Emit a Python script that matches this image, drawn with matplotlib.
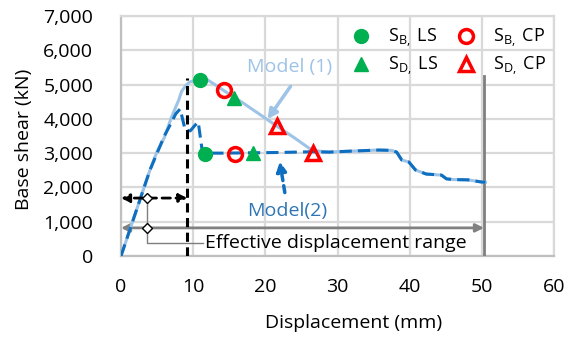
import matplotlib
matplotlib.use("Agg")
import matplotlib.pyplot as plt
from matplotlib.ticker import FuncFormatter

plt.rcParams['font.family'] = ['Open Sans', 'DejaVu Sans']
plt.rcParams['mathtext.fontset'] = 'custom'
plt.rcParams['mathtext.rm'] = 'Open Sans'
plt.rcParams['mathtext.it'] = 'Open Sans'

# ---- data ----
model1_x = [0, 2, 4, 5, 6, 7, 8, 8.4, 9, 9.5, 10.2, 10.9, 11.6, 13, 15, 17, 20, 22, 24, 26.5,
            28.8, 32, 35.7, 37.5, 38.2, 38.9, 39.9, 40.8, 42.3, 44.4, 45.1, 46, 48.1, 49.9, 50.5]
model1_y = [0, 1250, 2500, 3050, 3450, 4050, 4550, 4800, 4980, 5070, 5120, 5150, 5190, 5000, 4720, 4450, 4020, 3730, 3450, 3080,
            3030, 3060, 3090, 3080, 3030, 2800, 2740, 2510, 2390, 2360, 2250, 2230, 2220, 2160, 2150]

model2_x = [0, 2, 4, 5, 6, 7, 7.6, 8.2, 8.9, 9.6, 10.2, 10.7, 11.3, 14, 18, 22, 26.5, 28.8, 32, 35.7, 37.5,
            38.2, 38.9, 39.9, 40.8, 42.3, 44.4, 45.1, 46, 48.1, 49.9, 50.5]
model2_y = [0, 1250, 2500, 3000, 3500, 3900, 4150, 4290, 3670, 3650, 3800, 3910, 3000, 3000, 3010, 3020, 3040, 3030, 3060, 3090, 3080,
            3030, 2800, 2740, 2510, 2390, 2360, 2250, 2230, 2220, 2160, 2150]

sb_ls_x = [10.9, 11.6]
sb_ls_y = [5120, 2980]
sb_cp_x = [14.3, 15.8]
sb_cp_y = [4840, 2980]
sd_ls_x = [15.6, 18.3]
sd_ls_y = [4620, 2990]
sd_cp_x = [21.6, 26.6]
sd_cp_y = [3780, 3010]

yield_disp = 9.2
peak_level = 5200
eff_limit = 50.3
eff_top = 5250
arrow1_y = 1690
arrow2_y = 820
leader_x = 3.6
leader_y = 380

xticks = [0, 10, 20, 30, 40, 50, 60]
yticks = [0, 1000, 2000, 3000, 4000, 5000, 6000, 7000]

# ---- colours ----
c_m1 = '#9DC3E6'
c_m2 = '#0E6EC0'
c_green = '#00B050'
c_red = '#FF0000'
c_grid = '#D9D9D9'

FS = 14

fig = plt.figure(figsize=(5.76, 3.37), dpi=100)
ax = fig.add_axes([121/576, 1-256/337, 433/576, 240/337])
ax.set_xlim(0, 60)
ax.set_ylim(0, 7000)
ax.set_xticks(xticks)
ax.set_yticks(yticks)
ax.yaxis.set_major_formatter(FuncFormatter(lambda v, p: f"{int(v):,}"))
ax.grid(True, color=c_grid, lw=1.6, zorder=0)
ax.set_axisbelow(True)
for s in ax.spines.values():
    s.set_color(c_grid)
    s.set_linewidth(1.6)
ax.spines['left'].set_color('#BFBFBF')
ax.spines['bottom'].set_color('#BFBFBF')
ax.tick_params(length=0, labelsize=FS, colors='black')
ax.tick_params(axis='y', pad=20)
ax.tick_params(axis='x', pad=16)

# effective range annotations
ax.plot([eff_limit, eff_limit], [0, eff_top], color='#7F7F7F', lw=2, zorder=3)
ax.annotate('', xy=(0, arrow2_y), xytext=(eff_limit, arrow2_y),
            arrowprops=dict(arrowstyle='<|-|>', color='#808080', lw=2, mutation_scale=12, shrinkA=0, shrinkB=0), zorder=3)
ax.annotate('', xy=(0, arrow1_y), xytext=(yield_disp, arrow1_y),
            arrowprops=dict(arrowstyle='<|-|>', color='black', lw=2, ls=(0, (3, 2)), mutation_scale=12, shrinkA=0, shrinkB=0), zorder=6)
ax.plot([leader_x, leader_x, 11.3], [arrow1_y, leader_y, leader_y], color='#7F7F7F', lw=1, zorder=4)
ax.plot([leader_x, leader_x], [arrow1_y, arrow2_y], ls='none', marker='D', ms=5,
        mfc='white', mec='black', mew=1, zorder=7)
ax.text(11.7, leader_y, 'Effective displacement range', fontsize=FS, va='center', ha='left', zorder=5)

# curves
ax.plot(model1_x, model1_y, color=c_m1, lw=2.2, zorder=4)
ax.plot(model2_x, model2_y, color=c_m2, lw=2.2, ls=(0, (4, 2)), zorder=5)
ax.plot([yield_disp, yield_disp], [0, peak_level], color='black', lw=2.2, ls=(0, (3, 1.8)), zorder=6)

# markers
h1, = ax.plot(sb_ls_x, sb_ls_y, 'o', color=c_green, ms=10, ls='none', zorder=8)
h2, = ax.plot(sd_ls_x, sd_ls_y, '^', color=c_green, ms=10, ls='none', zorder=8)
h3, = ax.plot(sb_cp_x, sb_cp_y, 'o', mfc='none', mec=c_red, mew=2.5, ms=10, ls='none', zorder=8)
h4, = ax.plot(sd_cp_x, sd_cp_y, '^', mfc='none', mec=c_red, mew=2.5, ms=10, ls='none', zorder=8)

leg = ax.legend([h1, h2, h3, h4],
                [r'S$_{\mathrm{B,}}$ LS', r'S$_{\mathrm{D,}}$ LS', r'S$_{\mathrm{B,}}$ CP', r'S$_{\mathrm{D,}}$ CP'],
                ncol=2, loc='upper right', bbox_to_anchor=(1.007, 1.0), frameon=False,
                fontsize=13, handlelength=1.0, handletextpad=1.0, columnspacing=1.0,
                labelspacing=0.3, borderaxespad=0.2)

# labels for models
ax.text(23.4, 5510, 'Model (1)', color=c_m1, fontsize=FS, ha='center', va='center', zorder=9)
ax.annotate('', xy=(20.3, 3990), xytext=(23.5, 4950),
            arrowprops=dict(arrowstyle='-|>', color=c_m1, lw=2.5, mutation_scale=14, shrinkA=0, shrinkB=0), zorder=9)
ax.text(23.0, 1310, 'Model(2)', color='#2E75B6', fontsize=FS, ha='center', va='center', zorder=9)
ax.annotate('', xy=(22.0, 2760), xytext=(22.7, 1850),
            arrowprops=dict(arrowstyle='-|>', color=c_m2, lw=2.5, ls=(0, (2, 1.5)), mutation_scale=14, shrinkA=0, shrinkB=0), zorder=9)

ax.set_xlabel('Displacement (mm)', fontsize=FS)
ax.set_ylabel('Base shear (kN)', fontsize=FS)
ax.xaxis.set_label_coords(0.536, -0.24)
ax.yaxis.set_label_coords(-0.203, 0.4875)

fig.savefig('out.png', dpi=100)
